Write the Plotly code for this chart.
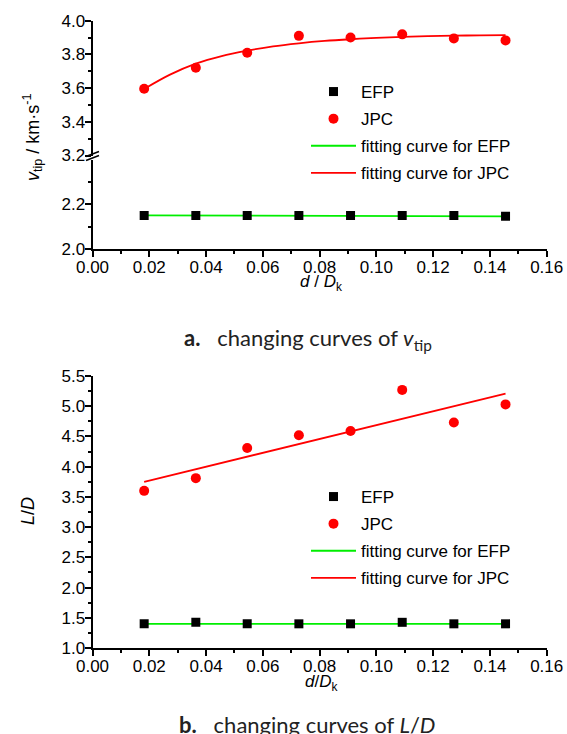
import plotly.graph_objects as go

W, H = 567, 734

# ---------------- data ----------------
ratio = [0.0182, 0.0364, 0.0545, 0.0727, 0.0909, 0.1091, 0.1273, 0.1455]

vtip_efp = [2.150, 2.150, 2.150, 2.150, 2.150, 2.150, 2.150, 2.146]
vtip_jpc = [3.596, 3.721, 3.810, 3.910, 3.900, 3.919, 3.895, 3.883]

fit_vtip_efp_x = [0.0182, 0.1273, 0.1455]
fit_vtip_efp_y = [2.150, 2.149, 2.146]
fit_vtip_jpc_x = [0.0182, 0.0273, 0.0364, 0.0455, 0.0545, 0.0636, 0.0727, 0.0818,
                  0.0909, 0.1000, 0.1091, 0.1182, 0.1273, 0.1364, 0.1455]
fit_vtip_jpc_y = [3.595, 3.680, 3.745, 3.790, 3.822, 3.848, 3.866, 3.880,
                  3.890, 3.898, 3.904, 3.908, 3.911, 3.913, 3.914]

ld_efp = [1.40, 1.425, 1.40, 1.40, 1.40, 1.425, 1.40, 1.40]
ld_jpc = [3.60, 3.81, 4.31, 4.52, 4.59, 5.27, 4.73, 5.03]

fit_ld_efp_x = [0.0182, 0.1455]
fit_ld_efp_y = [1.40, 1.40]
fit_ld_jpc_x = [0.0182, 0.1455]
fit_ld_jpc_y = [3.75, 5.21]

x_ticks = [0.00, 0.02, 0.04, 0.06, 0.08, 0.10, 0.12, 0.14, 0.16]
names = ["EFP", "JPC", "fitting curve for EFP", "fitting curve for JPC"]

# ---------------- helpers ----------------
def px(x):
    return x / W

def py(y):
    return 1 - y / H

FONT = "Liberation Sans"
CAP_FONT = "Lato"
BLACK = "#000000"
RED = "#ff0000"
GREEN = "#00ee00"

fig = go.Figure()

def add_chart(xa, ya_efp, ya_jpc, efp, jpc, fex, fey, fjx, fjy, legend, spline):
    fig.add_trace(go.Scatter(x=fex, y=fey, mode="lines", name=names[2],
                             line=dict(color=GREEN, width=1.8),
                             xaxis=xa, yaxis=ya_efp, legend=legend,
                             legendgroup=legend + "3", legendrank=3))
    fig.add_trace(go.Scatter(x=fjx, y=fjy, mode="lines", name=names[3],
                             line=dict(color=RED, width=1.8,
                                       shape="spline" if spline else "linear"),
                             xaxis=xa, yaxis=ya_jpc, legend=legend,
                             legendgroup=legend + "4", legendrank=4))
    fig.add_trace(go.Scatter(x=ratio, y=efp, mode="markers", name=names[0],
                             marker=dict(symbol="square", size=9, color=BLACK),
                             xaxis=xa, yaxis=ya_efp, legend=legend,
                             legendgroup=legend + "1", legendrank=1))
    fig.add_trace(go.Scatter(x=ratio, y=jpc, mode="markers", name=names[1],
                             marker=dict(symbol="circle", size=10, color=RED),
                             xaxis=xa, yaxis=ya_jpc, legend=legend,
                             legendgroup=legend + "2", legendrank=2))

add_chart("x", "y", "y2", vtip_efp, vtip_jpc, fit_vtip_efp_x, fit_vtip_efp_y,
          fit_vtip_jpc_x, fit_vtip_jpc_y, "legend", True)
add_chart("x2", "y3", "y3", ld_efp, ld_jpc, fit_ld_efp_x, fit_ld_efp_y,
          fit_ld_jpc_x, fit_ld_jpc_y, "legend2", False)

xdom = [px(92.5), px(546.7)]
tickfont = dict(family=FONT, size=17, color=BLACK)

def xax(anchor):
    return dict(domain=xdom, range=[0, 0.16], anchor=anchor, automargin=False,
                tickmode="array", tickvals=x_ticks, ticktext=[f"{v:.2f}" for v in x_ticks],
                ticks="outside", ticklen=6, tickwidth=1.5, tickcolor=BLACK,
                ticklabelstandoff=-4,
                minor=dict(tickmode="linear", tick0=0.01, dtick=0.02, ticks="outside",
                           ticklen=3, tickwidth=1.5, tickcolor=BLACK),
                showline=True, linewidth=1.8, linecolor=BLACK,
                showgrid=False, zeroline=False, tickfont=tickfont, fixedrange=True)

def yax(dom, rng, tickvals, minorvals, anchor):
    return dict(domain=dom, range=rng, anchor=anchor, automargin=False,
                tickmode="array", tickvals=tickvals, ticktext=[f"{v:.1f}" for v in tickvals],
                ticks="outside", ticklen=6, tickwidth=1.5, tickcolor=BLACK,
                ticklabelstandoff=-4,
                minor=dict(tickmode="array", tickvals=minorvals, ticks="outside",
                           ticklen=3, tickwidth=1.5, tickcolor=BLACK),
                showline=True, linewidth=1.8, linecolor=BLACK,
                showgrid=False, zeroline=False, tickfont=tickfont, fixedrange=True)

legend_common = dict(font=dict(family=FONT, size=17, color=BLACK), itemwidth=45,
                     tracegroupgap=2, bgcolor="rgba(0,0,0,0)", xanchor="left", yanchor="top",
                     traceorder="grouped")

fig.update_layout(
    width=W, height=H, margin=dict(l=0, r=0, t=0, b=0, autoexpand=False),
    paper_bgcolor="white", plot_bgcolor="white",
    xaxis=xax("y"),
    yaxis=yax([py(248.7), py(160)], [2.0, 2.4], [2.0, 2.2], [2.1, 2.3], "x"),
    yaxis2=yax([py(155.5), py(20.7)], [3.2, 4.0], [3.2, 3.4, 3.6, 3.8, 4.0],
               [3.3, 3.5, 3.7, 3.9], "x"),
    xaxis2=xax("y3"),
    yaxis3=yax([py(648), py(376)], [1.0, 5.5], [1.0, 1.5, 2.0, 2.5, 3.0, 3.5, 4.0, 4.5, 5.0, 5.5],
               [1.25, 1.75, 2.25, 2.75, 3.25, 3.75, 4.25, 4.75, 5.25], "x2"),
    legend=dict(x=px(306), y=py(74), **legend_common),
    legend2=dict(x=px(306), y=py(479), **legend_common),
)

# axis break marks
for y0 in (156.5, 160.5):
    fig.add_shape(type="line", xref="paper", yref="paper",
                  x0=px(86), y0=py(y0), x1=px(99), y1=py(y0 - 5),
                  line=dict(color=BLACK, width=1.5))

ann_font = dict(family=FONT, size=17, color=BLACK)
cap_font = dict(family=CAP_FONT, size=22, color="#222222")
anns = [
    dict(text="<i>d</i> / <i>D</i><sub>k</sub>", x=px(321), y=py(283), font=ann_font),
    dict(text="<i>v</i><sub>tip</sub> / km·s<sup>-1</sup>", x=px(32), y=py(137),
         font=dict(family=FONT, size=18, color=BLACK), textangle=-90),
    dict(text="<i>d</i>/<i>D</i><sub>k</sub>", x=px(321), y=py(683), font=ann_font),
    dict(text="<i>L</i>/<i>D</i>", x=px(28), y=py(511), font=dict(family=FONT, size=18, color=BLACK),
         textangle=-90),
    dict(text="<b>a.</b>   changing curves of <i>v</i><sub>tip</sub>", x=px(308), y=py(339),
         font=cap_font),
    dict(text="<b>b.</b>   changing curves of <i>L</i>/<i>D</i>", x=px(307), y=py(724),
         font=cap_font),
]
for a in anns:
    fig.add_annotation(xref="paper", yref="paper", showarrow=False,
                       xanchor="center", yanchor="middle", **a)

fig.write_html("out.html", config={"displayModeBar": False},
               post_script="document.body.style.margin='0px';document.body.style.overflow='hidden';")
